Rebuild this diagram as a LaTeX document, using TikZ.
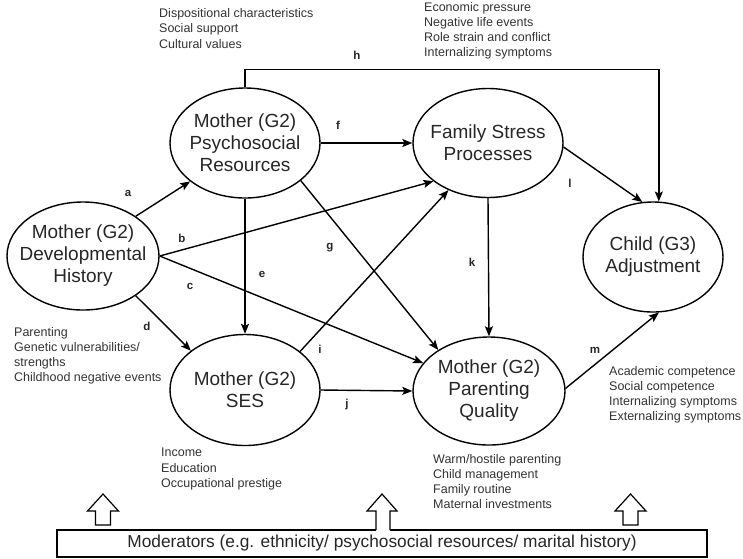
\documentclass[tikz,border=0pt]{standalone}
\usepackage{fontspec}
\setmainfont{Liberation Sans}
\usetikzlibrary{shapes.geometric,arrows.meta}
\begin{document}
\begin{tikzpicture}[x=1pt,y=-1pt,
  construct/.style={ellipse, draw, line width=1.4pt, inner sep=-20pt, align=center,
    font=\fontsize{19}{22}\selectfont, text=black!85},
  link/.style={line width=1.4pt, -{Stealth[length=10pt,width=8pt,inset=2pt]}},
  tag/.style={font=\fontsize{11.5}{13}\selectfont\bfseries, inner sep=0pt, text=black!85},
  notes/.style={anchor=north west, inner sep=0pt, align=left,
    font=\fontsize{12.5}{15.2}\selectfont, text=black!80},
  blockarrow/.style={draw, fill=white, line width=1.2pt, line join=miter}
]
\useasboundingbox (0,0) rectangle (743,558);

% constructs
\node[construct, minimum width=150pt, minimum height=110pt] (PR)  at (245,143) {Mother (G2)\\Psychosocial\\Resources};
\node[construct, minimum width=150pt, minimum height=109pt] (FS)  at (488,143) {Family Stress\\Processes};
\node[construct, minimum width=152pt, minimum height=108pt] (DH)  at (83,256)  {Mother (G2)\\Developmental\\History};
\node[construct, minimum width=150pt, minimum height=111pt] (SES) at (245,390) {Mother (G2)\\SES};
\node[construct, minimum width=152pt, minimum height=108pt] (PQ)  at (489,391) {Mother (G2)\\Parenting\\Quality};
\node[construct, minimum width=140pt, minimum height=110pt] (CA)  at (653,257) {Child (G3)\\Adjustment};

% paths
\draw[link] (DH.37)     -- (PR.215);
\draw[link] (DH.east)   -- (FS.215);
\draw[link] (DH.east)   -- (PQ.157);
\draw[link] (DH.-37)    -- (SES.144);
\draw[link] (PR.south)  -- (SES.north);
\draw[link] (PR.east)   -- (FS.west);
\draw[link] (PR.-34)    -- (PQ.141);
\draw[link] (PR.north)  -- ++(0,-18) -| (CA.84);
\draw[link] (SES.35)    -- (FS.230);
\draw[link] (SES.east)  -- (PQ.west);
\draw[link] (FS.south)  -- (PQ.north);
\draw[link] (FS.-3)     -- (CA.101);
\draw[link] (PQ.2)      -- (CA.-84);

% path labels
\node[tag] (ta) at (128,193) {a};
\node[tag] (tb) at (182,238) {b};
\node[tag] (tc) at (190,286) {c};
\node[tag] (td) at (147,326) {d};
\node[tag] (te) at (262,274) {e};
\node[tag] (tf) at (338,125) {f};
\node[tag] (tg) at (330,248) {g};
\node[tag] (th) at (357,55)  {h};
\node[tag] (ti) at (320,349) {i};
\node[tag] (tj) at (347,405) {j};
\node[tag] (tk) at (472,262) {k};
\node[tag] (tl) at (570,183) {l};
\node[tag] (tm) at (595,350) {m};

% indicator lists
\node[notes] (n1) at (159,8.5) {Dispositional characteristics\\Social support\\Cultural values};
\node[notes] (n2) at (424,2)   {Economic pressure\\Negative life events\\Role strain and conflict\\Internalizing symptoms};
\node[notes] (n3) at (14,327)  {Parenting\\Genetic vulnerabilities/\\strengths\\Childhood negative events};
\node[notes] (n4) at (161,448) {Income\\Education\\Occupational prestige};
\node[notes] (n5) at (433,454) {Warm/hostile parenting\\Child management\\Family routine\\Maternal investments};
\node[notes] (n6) at (609,366) {Academic competence\\Social competence\\Internalizing symptoms\\Externalizing symptoms};

% moderators box
\node[draw, line width=1.2pt, minimum width=650pt, minimum height=27pt, inner sep=0pt,
  font=\fontsize{17.3}{20}\selectfont, text=black!85] (MOD) at (382,543.5)
  {Moderators (e.g. ethnicity/ psychosocial resources/ marital history)};

% outlined block arrows
\draw[blockarrow] (95.5,525) -- (95.5,511) -- (87.5,511) -- (103,494) -- (118.5,511) -- (110.5,511) -- (110.5,525) -- cycle;
\draw[blockarrow] (623,525) -- (623,511) -- (615,511) -- (630.5,494) -- (646,511) -- (638,511) -- (638,525) -- cycle;
\fill[white] (376,531) -- (376,511) -- (367,511) -- (382,494) -- (397,511) -- (390,511) -- (390,531) -- cycle;
\draw[line width=1.2pt, line join=miter] (376,530) -- (376,511) -- (367,511) -- (382,494) -- (397,511) -- (390,511) -- (390,530);
\end{tikzpicture}
\end{document}
